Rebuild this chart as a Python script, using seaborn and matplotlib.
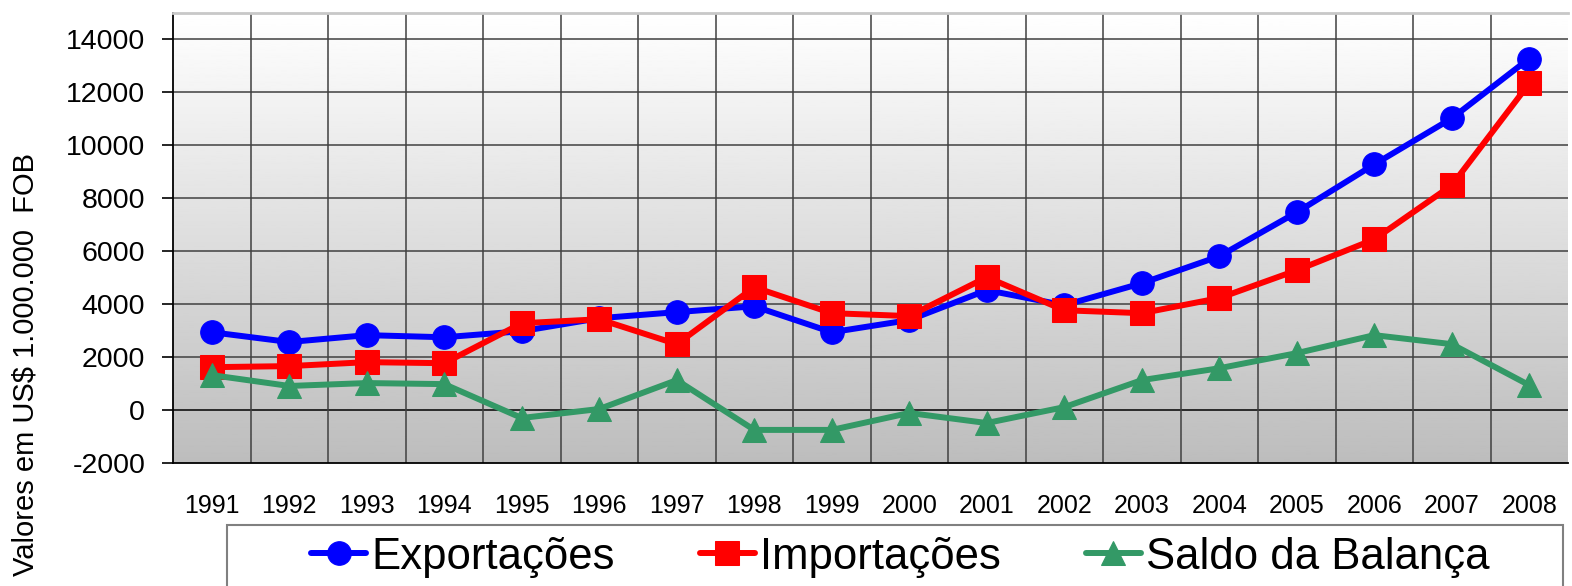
import numpy as np
import pandas as pd
import matplotlib
matplotlib.use("Agg")
import matplotlib.pyplot as plt
from matplotlib.patches import Rectangle
import seaborn as sns

years = [str(y) for y in range(1991, 2009)]

exportacoes = [2940, 2570, 2830, 2750, 2980, 3470, 3700, 3920, 2940, 3400,
               4530, 3960, 4790, 5810, 7470, 9280, 11020, 13280]
importacoes = [1620, 1660, 1810, 1770, 3280, 3430, 2490, 4640, 3660, 3550,
               5020, 3770, 3660, 4230, 5280, 6450, 8490, 12340]
saldo = [1320, 910, 1020, 980, -300, 40, 1130, -750, -750, -110,
         -490, 110, 1130, 1580, 2150, 2830, 2490, 940]

series_names = ["Exportações", "Importações", "Saldo da Balança"]
series_colors = ["#0000FF", "#FF0000", "#339966"]
series_markers = ["o", "s", "^"]

sns.set_style("white")
plt.rcParams["font.family"] = ["Liberation Sans", "DejaVu Sans"]
plt.rcParams["axes.unicode_minus"] = False
plt.rcParams["text.color"] = "black"
plt.rcParams["xtick.color"] = "black"
plt.rcParams["ytick.color"] = "black"
plt.rcParams["axes.labelcolor"] = "black"

W, H = 1572, 586
fig = plt.figure(figsize=(W / 100, H / 100), dpi=100)
# plot area in pixels: x 173..1568, y 13..463
ax = fig.add_axes([173 / W, 1 - 463 / H, 1395 / W, 450 / H])

# gradient background, white at top to gray at bottom
grad = np.linspace(1.0, 0.74, 256).reshape(-1, 1)
ax.imshow(grad, cmap="gray", vmin=0, vmax=1, aspect="auto",
          extent=[0, 1, 0, 1], transform=ax.transAxes, zorder=0)

x = np.arange(len(years))
for name, vals, col, mk in zip(series_names, [exportacoes, importacoes, saldo],
                               series_colors, series_markers):
    ms = 16 if mk == "^" else 15
    sns.lineplot(x=x, y=vals, ax=ax, color=col, marker=mk, markersize=ms,
                 markeredgecolor=col, linewidth=4.3, label=name, zorder=5)

ax.set_xlim(-0.5, len(years) - 0.5)
ax.set_ylim(-2000, 15000)
ax.set_yticks(range(-2000, 14001, 2000))
ax.set_xticks(x)
ax.set_xticklabels(years)

ax.grid(False)
for yv in range(0, 14001, 2000):
    ax.axhline(yv, color="#000000" if yv == 0 else "#404040", lw=1.1, zorder=1)
for xv in np.arange(0.5, len(years) - 1, 1):
    ax.axvline(xv, color="#404040", lw=1.1, zorder=1)

ax.tick_params(axis="y", which="major", direction="out", length=8, width=1.2,
               color="black", labelsize=20.5, pad=12, left=True)
ax.tick_params(axis="x", which="both", length=0, labelsize=18, pad=22)

for s in ["left", "bottom"]:
    ax.spines[s].set_color("black")
    ax.spines[s].set_linewidth(1.3)
ax.spines["top"].set_color("#c8c8c8")
ax.spines["top"].set_linewidth(2)
ax.spines["right"].set_visible(False)

ax.set_ylabel("Valores em US$ 1.000.000  FOB", fontsize=21)
ax.yaxis.set_label_coords((40 - 173) / 1395, (463 - 365) / 450)
ax.set_xlabel("")

handles, labels = ax.get_legend_handles_labels()
ax.get_legend().remove()
for h in handles:
    h.set_markersize(17)
leg = fig.legend(handles, labels, loc="center left",
                 bbox_to_anchor=(311 / W, 1 - 557 / H),
                 ncol=3, fontsize=31.5, frameon=False,
                 handlelength=1.26, handletextpad=0.11, columnspacing=1.95,
                 borderpad=0, borderaxespad=0)

# legend box, bottom part falls outside the figure
fig.patches.append(Rectangle((227 / W, -0.05), (1563 - 227) / W, 0.05 + 1 - 525 / H,
                             transform=fig.transFigure, facecolor="white",
                             edgecolor="#808080", linewidth=1.5, zorder=-1))

fig.savefig("out.png", dpi=100)
